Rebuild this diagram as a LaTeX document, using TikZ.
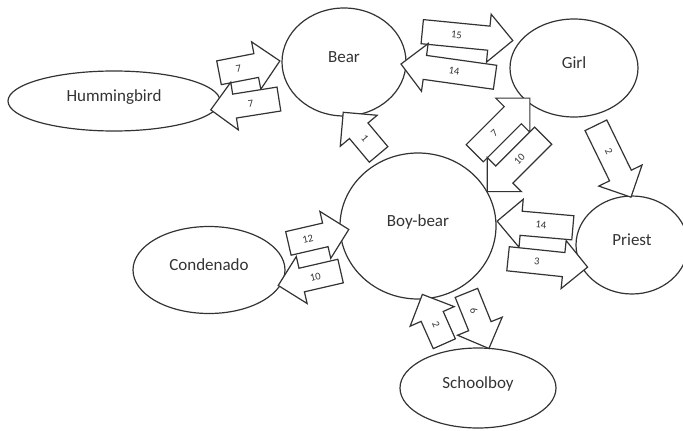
\documentclass[tikz,border=0pt]{standalone}
\usepackage{fontspec}
\setmainfont{Carlito}
\usetikzlibrary{shapes.geometric,shapes.arrows}
\tikzset{
  actor/.style={ellipse,draw=black!80,line width=1.2pt,inner sep=0pt,text=black!80,
    font=\fontsize{17}{20}\selectfont,text height=12pt,text depth=12pt},
  gift/.style={single arrow,draw=black!80,fill=white,line width=1.2pt,inner xsep=0pt,
    inner ysep=8.25pt,text height=6.5pt,text depth=0pt,minimum width=1pt,
    single arrow head extend=12pt,single arrow tip angle=90,text=black!80,
    font=\fontsize{10.5}{12}\selectfont,execute at end node=\hspace{10pt}},
  giftback/.style={gift,shape border rotate=180,execute at end node={},
    execute at begin node=\hspace{10pt}}
}

\begin{document}
\begin{tikzpicture}[x=1pt,y=-1pt]
\useasboundingbox (0,0) rectangle (683,431);
\node (hummingbird) [actor,minimum width=212pt,minimum height=60pt] at (114,101) {Hummingbird};
\node (bear) [actor,minimum width=124pt,minimum height=108pt] at (344,62) {Bear};
\node (girl) [actor,minimum width=128pt,minimum height=98pt] at (574,68) {Girl};
\node (boybear) [actor,minimum width=156pt,minimum height=146pt] at (418,226) {Boy-bear};
\node (priest) [actor,minimum width=112pt,minimum height=98pt] at (632,245) {Priest};
\node (condenado) [actor,minimum width=152pt,minimum height=87pt] at (209,270) {Condenado};
\node (schoolboy) [actor,minimum width=156pt,minimum height=80pt] at (478,388) {Schoolboy};

\node (hb-bear) [gift,rotate=11,minimum height=62pt] at (243.5,68) {7};
\node (bear-hb) [giftback,rotate=9,minimum height=69pt] at (250.8,103.5) {7};
\node (bear-girl) [gift,rotate=-5.6,minimum height=91pt] at (461.5,35.5) {15};
\node (girl-bear) [giftback,rotate=-8,minimum height=95pt] at (454,71.5) {14};
\node (bb-bear) [giftback,rotate=-50,minimum height=55pt] at (364.8,138) {1};
\node (bb-girl) [gift,rotate=45,minimum height=78pt] at (498,130) {7};
\node (girl-bb) [giftback,rotate=45,minimum height=79pt] at (519.5,159.4) {10};
\node (girl-priest) [gift,rotate=-64,minimum height=80pt] at (610.8,155.8) {2};
\node (priest-bb) [giftback,rotate=-5,minimum height=76pt] at (541,225) {14};
\node (bb-priest) [gift,rotate=-6,minimum height=80pt] at (541.8,262.3) {3};
\node (cond-bb) [gift,rotate=13,minimum height=62pt] at (312.7,237.8) {12};
\node (bb-cond) [giftback,rotate=13,minimum height=64pt] at (315.3,276.9) {10};
\node (bb-school) [gift,rotate=-68,minimum height=60pt] at (475.4,315.1) {6};
\node (school-bb) [giftback,rotate=-66,minimum height=54pt] at (435.8,324.6) {2};
\end{tikzpicture}
\end{document}
